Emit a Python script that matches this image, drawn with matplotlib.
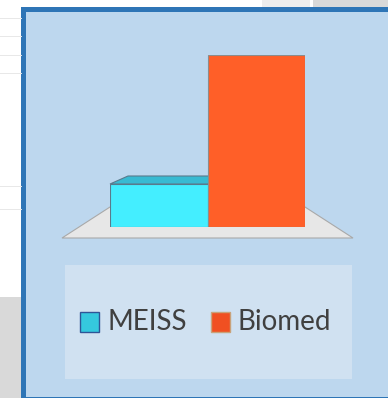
import matplotlib
matplotlib.use('Agg')
import matplotlib.pyplot as plt
from matplotlib.patches import Rectangle, Polygon

# chart data
categories = ["MEISS", "Biomed"]
values = [1, 4]
front_colors = ["#44EEFF", "#FF5F28"]
top_colors = ["#38BAD2", "#E0501E"]
legend_colors = ["#35C8DE", "#F05022"]
legend_edges = ["#2F5597", "#C9A27A"]

W, H = 388, 398
fig = plt.figure(figsize=(W / 100, H / 100), dpi=100)
fig.patch.set_facecolor('white')

# layout axes in pixel units (origin top-left)
lay = fig.add_axes([0, 0, 1, 1])
lay.set_xlim(0, W)
lay.set_ylim(H, 0)
lay.axis('off')

# surrounding page bits
for y in [18, 36, 55, 73, 186, 209]:
    lay.plot([0, 21], [y, y], color='#E8E8E8', lw=0.7)
lay.add_patch(Rectangle((0, 297), 21, H - 297, color='#D9D9D9', lw=0))
lay.add_patch(Rectangle((313, 0), W - 313, 7, color='#D9D9D9', lw=0))
lay.add_patch(Rectangle((262, 0), 48, 7, color='#EDEDED', lw=0))

# panel with blue frame
lay.add_patch(Rectangle((21, 7), 400, 400, color='#2E75B6', lw=0))
lay.add_patch(Rectangle((26, 12), 400, 384.5, color='#BDD7EE', lw=0))

# floor
lay.add_patch(Polygon([(62, 238), (110, 207), (305, 207), (353, 238)],
                      closed=True, facecolor='#E7E7E7', edgecolor='#A9A9A9', lw=0.8))

# legend box
lay.add_patch(Rectangle((65, 265), 287, 114, facecolor='#D0E1F1', lw=0))
lx = [80, 211]
for i, name in enumerate(categories):
    lay.add_patch(Rectangle((lx[i], 312), 19, 20, facecolor=legend_colors[i],
                            edgecolor=legend_edges[i], lw=1))
    lay.text(lx[i] + 27, 322, name, fontsize=20, family=['Lato', 'DejaVu Sans'],
             color='#404040', va='center', ha='left')

# bar axes: x in category units, y in value units
ax = fig.add_axes([110 / W, (H - 227) / H, 195 / W, 172 / H])
ax.set_xlim(-0.5, 1.5)
ax.set_ylim(0, 4)
ax.axis('off')
ax.patch.set_alpha(0)

dx = 18 / 97.5
dy = 8 / 43
xs = list(range(len(categories)))
for i, (x, v) in enumerate(zip(xs, values)):
    z = 2 + i * 2
    ax.bar(x, v, width=1.0, color=front_colors[i], edgecolor='#5A7A8C' if i == 0 else '#8C8C8C',
           linewidth=0.8, zorder=z)
    if i == 0:
        top = Polygon([(x - 0.5, v), (x - 0.5 + dx, v + dy), (x + 0.5 + dx, v + dy), (x + 0.5, v)],
                      closed=True, facecolor=top_colors[i], edgecolor='#5A7A8C', lw=0.8,
                      zorder=z + 0.5, clip_on=False)
        ax.add_patch(top)

fig.savefig('out.png', dpi=100, facecolor=fig.get_facecolor())
